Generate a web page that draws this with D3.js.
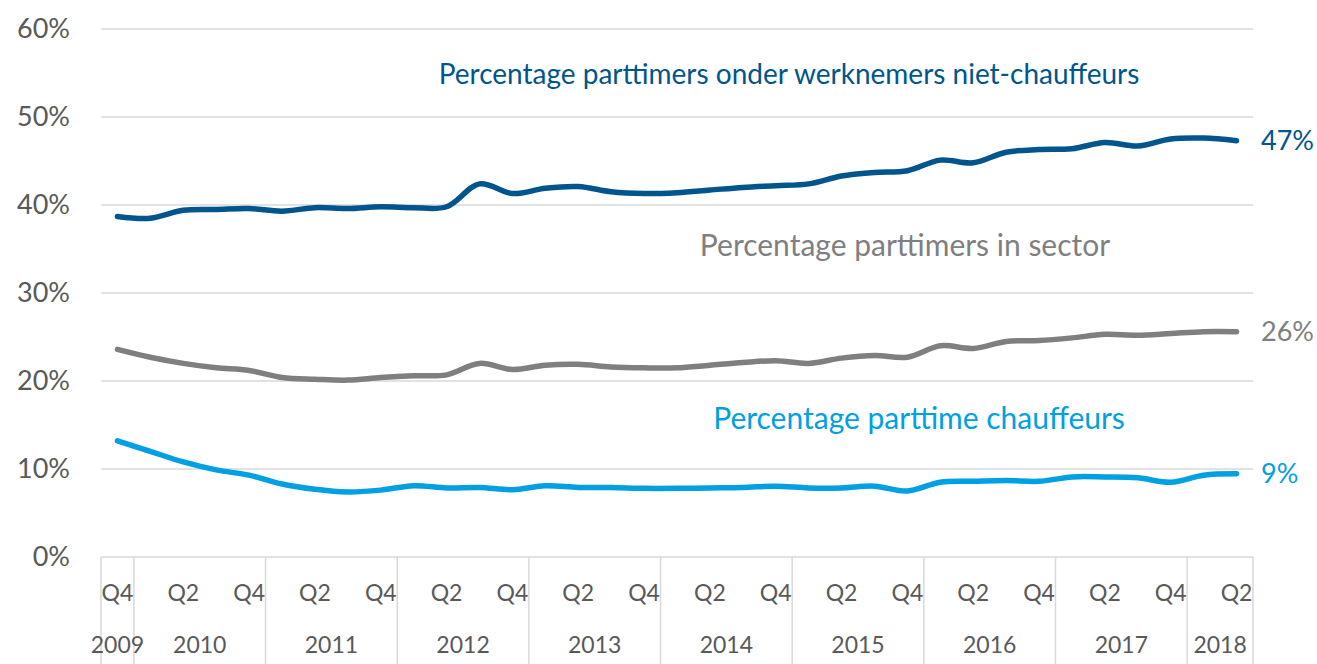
<!DOCTYPE html>
<html>
<head>
<meta charset="utf-8">
<script src="https://cdn.jsdelivr.net/npm/d3@7"></script>
<style>
  body { margin: 0; background: #fff; }
  text { font-family: Lato, "Open Sans", sans-serif; }
</style>
</head>
<body>
<div class="container"></div>
<script>
// quarters on the x axis, 2009 Q4 .. 2018 Q2
let quarters = [
  '2009 Q4',
  '2010 Q1', '2010 Q2', '2010 Q3', '2010 Q4',
  '2011 Q1', '2011 Q2', '2011 Q3', '2011 Q4',
  '2012 Q1', '2012 Q2', '2012 Q3', '2012 Q4',
  '2013 Q1', '2013 Q2', '2013 Q3', '2013 Q4',
  '2014 Q1', '2014 Q2', '2014 Q3', '2014 Q4',
  '2015 Q1', '2015 Q2', '2015 Q3', '2015 Q4',
  '2016 Q1', '2016 Q2', '2016 Q3', '2016 Q4',
  '2017 Q1', '2017 Q2', '2017 Q3', '2017 Q4',
  '2018 Q1', '2018 Q2'
];
let years = ['2009', '2010', '2011', '2012', '2013', '2014', '2015', '2016', '2017', '2018'];

// percentages
let nietChauffeurs = [
  38.7, 38.5, 39.4, 39.5, 39.6, 39.3, 39.7, 39.6, 39.8, 39.7,
  39.8, 42.4, 41.3, 41.9, 42.1, 41.5, 41.3, 41.4, 41.7, 42.0,
  42.2, 42.4, 43.3, 43.7, 43.9, 45.1, 44.8, 46.0, 46.3, 46.4,
  47.1, 46.7, 47.5, 47.6, 47.3
];
let sector = [
  23.6, 22.7, 22.0, 21.5, 21.2, 20.4, 20.2, 20.1, 20.4, 20.6,
  20.7, 22.0, 21.3, 21.8, 21.9, 21.6, 21.5, 21.5, 21.8, 22.1,
  22.3, 22.0, 22.6, 22.9, 22.7, 24.0, 23.7, 24.5, 24.6, 24.9,
  25.3, 25.2, 25.4, 25.6, 25.6
];
let chauffeurs = [
  13.2, 12.0, 10.8, 9.9, 9.3, 8.3, 7.7, 7.4, 7.6, 8.1,
  7.85, 7.9, 7.65, 8.1, 7.9, 7.9, 7.8, 7.8, 7.85, 7.9,
  8.05, 7.85, 7.85, 8.05, 7.5, 8.5, 8.6, 8.7, 8.6, 9.1,
  9.1, 9.0, 8.5, 9.3, 9.45
];
let yTicks = [0, 10, 20, 30, 40, 50, 60];

let series = [
  {name: 'Percentage parttimers onder werknemers niet-chauffeurs', values: nietChauffeurs,
   color: '#00558c', end: '47%', lx: 789, ly: 74, size: 28},
  {name: 'Percentage parttimers in sector', values: sector,
   color: '#7f7f7f', end: '26%', lx: 905, ly: 245, size: 30},
  {name: 'Percentage parttime chauffeurs', values: chauffeurs,
   color: '#00a0e3', end: '9%', lx: 919, ly: 418, size: 30}
];

let outerWidth = 1317, outerHeight = 664;
let margin = {top: 29, right: 64, bottom: 107, left: 101};
let width = outerWidth - margin.left - margin.right,
    height = outerHeight - margin.top - margin.bottom;

let svg = d3.select('.container').append('svg')
  .attr('width', outerWidth)
  .attr('height', outerHeight);

let group = svg.append('g')
  .attr('transform', `translate(${margin.left},${margin.top})`);

let x = d3.scaleBand()
  .domain(quarters)
  .range([0, width])
  .padding(0);

let y = d3.scaleLinear()
  .domain([0, 60])
  .range([height, 0]);

let xc = q => x(q) + x.bandwidth() / 2;

// gridlines
group.selectAll('.grid')
  .data(yTicks)
  .enter().append('line')
  .attr('x1', 0).attr('x2', width)
  .attr('y1', d => y(d)).attr('y2', d => y(d))
  .attr('stroke', '#d9d9d9')
  .attr('stroke-width', 1.5);

// y tick labels
group.selectAll('.ylab')
  .data(yTicks)
  .enter().append('text')
  .attr('x', -31)
  .attr('y', d => y(d))
  .attr('dy', '0.35em')
  .attr('text-anchor', 'end')
  .attr('fill', '#595959')
  .style('font-size', '27px')
  .text(d => d + '%');

// year groups
let yearGroups = years.map(yr => {
  let qs = quarters.filter(q => q.startsWith(yr));
  return {year: yr, start: x(qs[0]), end: x(qs[qs.length - 1]) + x.bandwidth()};
});

let bounds = [0].concat(yearGroups.map(g => g.end));
group.selectAll('.sep')
  .data(bounds)
  .enter().append('line')
  .attr('x1', d => d).attr('x2', d => d)
  .attr('y1', height).attr('y2', outerHeight - margin.top)
  .attr('stroke', '#d9d9d9')
  .attr('stroke-width', 1.5);

// quarter labels (every second one)
group.selectAll('.qlab')
  .data(quarters.filter((q, i) => i % 2 === 0))
  .enter().append('text')
  .attr('x', d => xc(d))
  .attr('y', height + 36)
  .attr('dy', '0.35em')
  .attr('text-anchor', 'middle')
  .attr('fill', '#595959')
  .style('font-size', '23px')
  .text(d => d.split(' ')[1]);

group.selectAll('.yrlab')
  .data(yearGroups)
  .enter().append('text')
  .attr('x', d => (d.start + d.end) / 2)
  .attr('y', height + 88)
  .attr('dy', '0.35em')
  .attr('text-anchor', 'middle')
  .attr('fill', '#595959')
  .style('font-size', '23px')
  .text(d => d.year);

// lines
let line = d3.line()
  .x((d, i) => xc(quarters[i]))
  .y(d => y(d))
  .curve(d3.curveCatmullRom.alpha(0.5));

group.selectAll('.series')
  .data(series)
  .enter().append('path')
  .attr('d', d => line(d.values))
  .attr('fill', 'none')
  .attr('stroke', d => d.color)
  .attr('stroke-width', 5.5)
  .attr('stroke-linecap', 'round');

// end labels
group.selectAll('.endlab')
  .data(series)
  .enter().append('text')
  .attr('x', width + 8)
  .attr('y', d => y(d.values[d.values.length - 1]))
  .attr('dy', '0.35em')
  .attr('fill', d => d.color)
  .style('font-size', '27px')
  .text(d => d.end);

// series names
svg.selectAll('.name')
  .data(series)
  .enter().append('text')
  .attr('x', d => d.lx)
  .attr('y', d => d.ly)
  .attr('dy', '0.35em')
  .attr('text-anchor', 'middle')
  .attr('fill', d => d.color)
  .style('font-size', d => d.size + 'px')
  .text(d => d.name);
</script>
</body>
</html>
